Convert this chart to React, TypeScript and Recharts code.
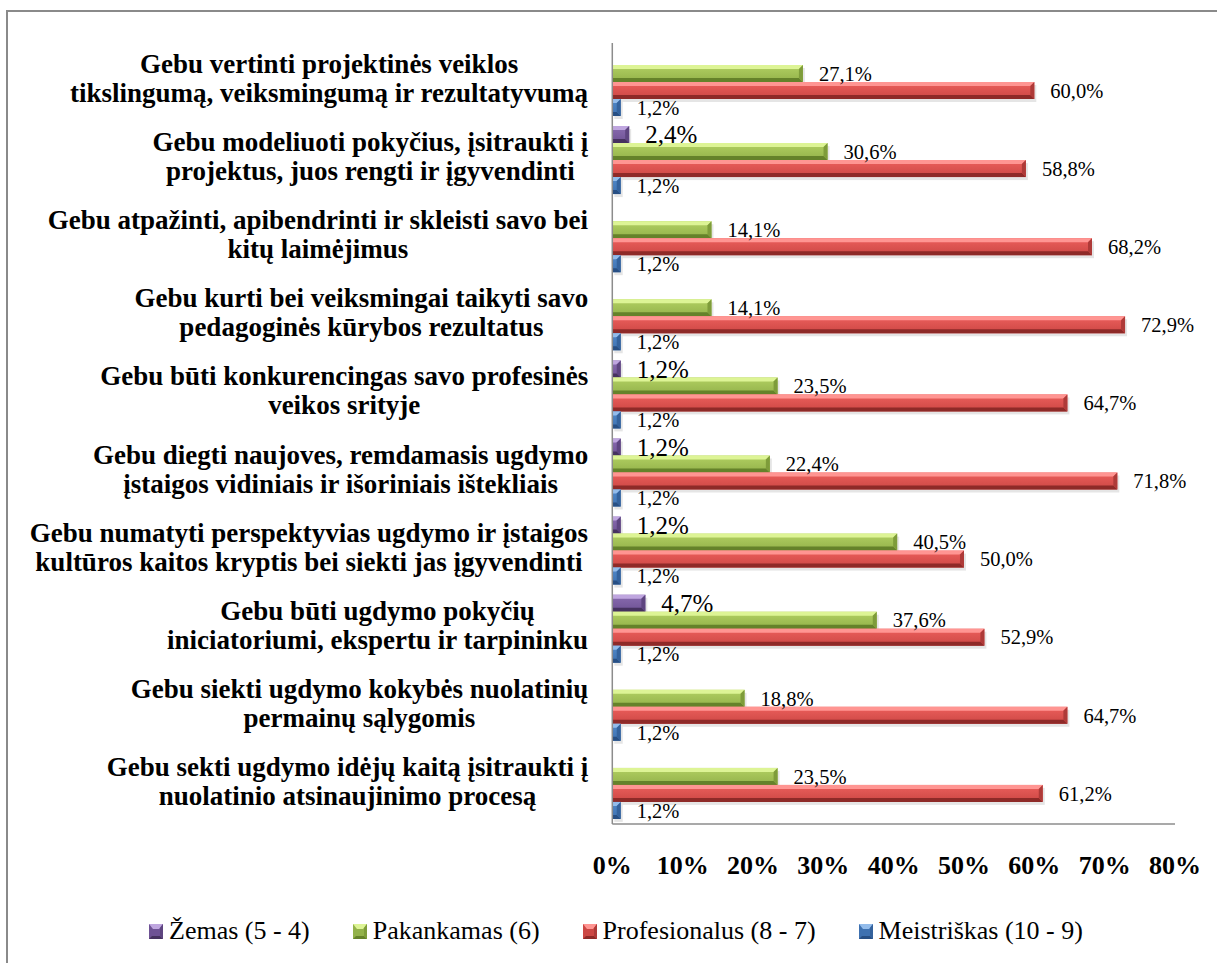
import { BarChart, Bar, XAxis, YAxis, Legend, LabelList } from 'recharts'

// kategorijos (iš viršaus į apačią), \n - eilutės lūžis kaip originale
const categories = [
  'Gebu vertinti projektinės veiklos\ntikslingumą, veiksmingumą ir rezultatyvumą',
  'Gebu modeliuoti pokyčius, įsitraukti į\nprojektus, juos rengti ir įgyvendinti',
  'Gebu atpažinti, apibendrinti ir skleisti savo bei\nkitų laimėjimus',
  'Gebu kurti bei veiksmingai taikyti savo\npedagoginės kūrybos rezultatus',
  'Gebu būti konkurencingas savo profesinės\nveikos srityje',
  'Gebu diegti naujoves, remdamasis ugdymo\nįstaigos vidiniais ir išoriniais ištekliais',
  'Gebu numatyti perspektyvias ugdymo ir įstaigos\nkultūros kaitos kryptis bei siekti jas įgyvendinti',
  'Gebu būti ugdymo pokyčių\niniciatoriumi, ekspertu ir tarpininku',
  'Gebu siekti ugdymo kokybės nuolatinių\npermainų sąlygomis',
  'Gebu sekti ugdymo idėjų kaitą įsitraukti į\nnuolatinio atsinaujinimo procesą',
]

const zemas = [null, 2.4, null, null, 1.2, 1.2, 1.2, 4.7, null, null]
const pakankamas = [27.1, 30.6, 14.1, 14.1, 23.5, 22.4, 40.5, 37.6, 18.8, 23.5]
const profesionalus = [60.0, 58.8, 68.2, 72.9, 64.7, 71.8, 50.0, 52.9, 64.7, 61.2]
const meistriskas = [1.2, 1.2, 1.2, 1.2, 1.2, 1.2, 1.2, 1.2, 1.2, 1.2]

const seriesNames = ['Žemas (5 - 4)', 'Pakankamas (6)', 'Profesionalus (8 - 7)', 'Meistriškas (10 - 9)']
const xTicks = [0, 10, 20, 30, 40, 50, 60, 70, 80]

const FONT = '"Liberation Serif", "Times New Roman", serif'
const CAT_SIZE = 27

const chartData = categories.map((name, i) => ({
  name,
  zemas: zemas[i],
  pakankamas: pakankamas[i],
  profesionalus: profesionalus[i],
  meistriskas: meistriskas[i],
}))

// spalvos su "3D" nuožulnumu
const COLORS: Record<string, { top: string; hi: string; lo: string; bottom: string; side: string }> = {
  zemas: { top: '#BFA6DF', hi: '#8A6CB0', lo: '#6E5294', bottom: '#46325F', side: '#5E4580' },
  pakankamas: { top: '#DDF495', hi: '#B2D062', lo: '#93B24A', bottom: '#65822A', side: '#7E9C3A' },
  profesionalus: { top: '#FF9592', hi: '#EC5F5C', lo: '#CC4744', bottom: '#8E2A28', side: '#AE3A38' },
  meistriskas: { top: '#93BCEB', hi: '#5189CA', lo: '#3E71B0', bottom: '#274F84', side: '#34629C' },
}

const keys = ['zemas', 'pakankamas', 'profesionalus', 'meistriskas']

let ctx: CanvasRenderingContext2D | null = null
function measure(text: string) {
  if (!ctx) ctx = document.createElement('canvas').getContext('2d')
  if (!ctx) return text.length * 12
  ctx.font = `bold ${CAT_SIZE}px "Liberation Serif"`
  return ctx.measureText(text).width
}

function CategoryTick(props: any) {
  const { x, y, payload } = props
  const lines = String(payload.value).split('\n')
  const w = Math.max(...lines.map(measure))
  const cx = x - w / 2
  return (
    <g>
      {lines.map((l, i) => (
        <text key={i} x={cx} y={y - 9 + i * 29} textAnchor="middle" fontSize={CAT_SIZE} fontWeight="bold" fill="#000" fontFamily={FONT}>
          {l}
        </text>
      ))}
    </g>
  )
}

function bevelShape(key: string) {
  return (props: any) => {
    const { x, y, width, height } = props
    if (width == null || !(width > 0)) return null
    const c = COLORS[key]
    const b = Math.min(4, height / 3, width / 2)
    const r = x + width
    const btm = y + height
    return (
      <g>
        <rect x={x + 2} y={y + 3} width={width} height={height} fill="#000" opacity={0.1} />
        <rect x={x} y={y} width={width} height={height} fill={`url(#grad-${key})`} />
        <polygon points={`${x},${y} ${r},${y} ${r - b},${y + b} ${x},${y + b}`} fill={c.top} />
        <polygon points={`${x},${btm} ${r},${btm} ${r - b},${btm - b} ${x},${btm - b}`} fill={c.bottom} />
        <polygon points={`${r},${y} ${r},${btm} ${r - b},${btm - b} ${r - b},${y + b}`} fill={c.side} />
      </g>
    )
  }
}

const fmt = (v: any) => (v == null ? '' : `${Number(v).toFixed(1).replace('.', ',')}%`)

function LegendMarker({ k }: { k: string }) {
  const c = COLORS[k]
  return (
    <svg width={14} height={15} style={{ display: 'block' }}>
      <rect x={0} y={0} width={14} height={15} fill={c.lo} />
      <polygon points="0,0 14,0 10,5 4,5" fill={c.top} />
      <polygon points="0,15 14,15 11,12 3,12" fill={c.bottom} />
      <polygon points="14,0 14,15 11,12 11,4" fill={c.side} />
    </svg>
  )
}

function renderLegend() {
  return (
    <div style={{ display: 'flex', alignItems: 'center', height: 40, paddingLeft: 149, fontFamily: FONT, fontSize: 26, color: '#000', lineHeight: 1 }}>
      {keys.map((k, i) => (
        <div key={k} style={{ display: 'flex', alignItems: 'center', marginRight: 43 }}>
          <LegendMarker k={k} />
          <span style={{ marginLeft: 6, whiteSpace: 'nowrap' }}>{seriesNames[i]}</span>
        </div>
      ))}
    </div>
  )
}

export default function App() {
  return (
    <div style={{ position: 'absolute', left: 0, top: 0, width: 1217, height: 963, overflow: 'hidden', background: '#fff' }}>
      <div style={{ position: 'absolute', left: 6, top: 10, width: 1300, height: 1100, border: '2px solid #8a8a8a' }} />
      <div style={{ position: 'absolute', left: 0, top: 0 }}>
        <BarChart
          width={1217}
          height={963}
          data={chartData}
          layout="vertical"
          margin={{ top: 43, right: 42, left: 0, bottom: 12 }}
          barGap={0}
          style={{ fontFamily: FONT }}
        >
          <defs>
            {keys.map((k) => (
              <linearGradient key={k} id={`grad-${k}`} x1="0" y1="0" x2="0" y2="1">
                <stop offset="0%" stopColor={COLORS[k].hi} />
                <stop offset="100%" stopColor={COLORS[k].lo} />
              </linearGradient>
            ))}
          </defs>
          <XAxis
            type="number"
            domain={[0, 80]}
            ticks={xTicks}
            tickFormatter={(v) => `${v}%`}
            height={87}
            tickLine={false}
            tickSize={0}
            tickMargin={32}
            axisLine={{ stroke: '#8c8c8c', strokeWidth: 1.5 }}
            tick={{ fontSize: 26, fontWeight: 'bold', fill: '#000', fontFamily: FONT }}
            interval={0}
          />
          <YAxis
            type="category"
            dataKey="name"
            width={612.3}
            tickLine={false}
            tickSize={0}
            tickMargin={24}
            axisLine={{ stroke: '#8c8c8c', strokeWidth: 1.5 }}
            tick={<CategoryTick />}
            interval={0}
          />
          <Legend
            verticalAlign="bottom"
            content={renderLegend}
            wrapperStyle={{ left: 0, top: 911, bottom: 'auto', width: 1217, height: 40 }}
          />
          {keys.map((k, i) => (
            <Bar key={k} dataKey={k} name={seriesNames[i]} barSize={17} fill={COLORS[k].lo} shape={bevelShape(k)} isAnimationActive={false}>
              <LabelList
                dataKey={k}
                position="right"
                offset={16}
                formatter={fmt}
                fill="#000"
                fontSize={k === 'zemas' ? 25 : 20.5}
                fontFamily={FONT}
              />
            </Bar>
          ))}
        </BarChart>
      </div>
    </div>
  )
}
